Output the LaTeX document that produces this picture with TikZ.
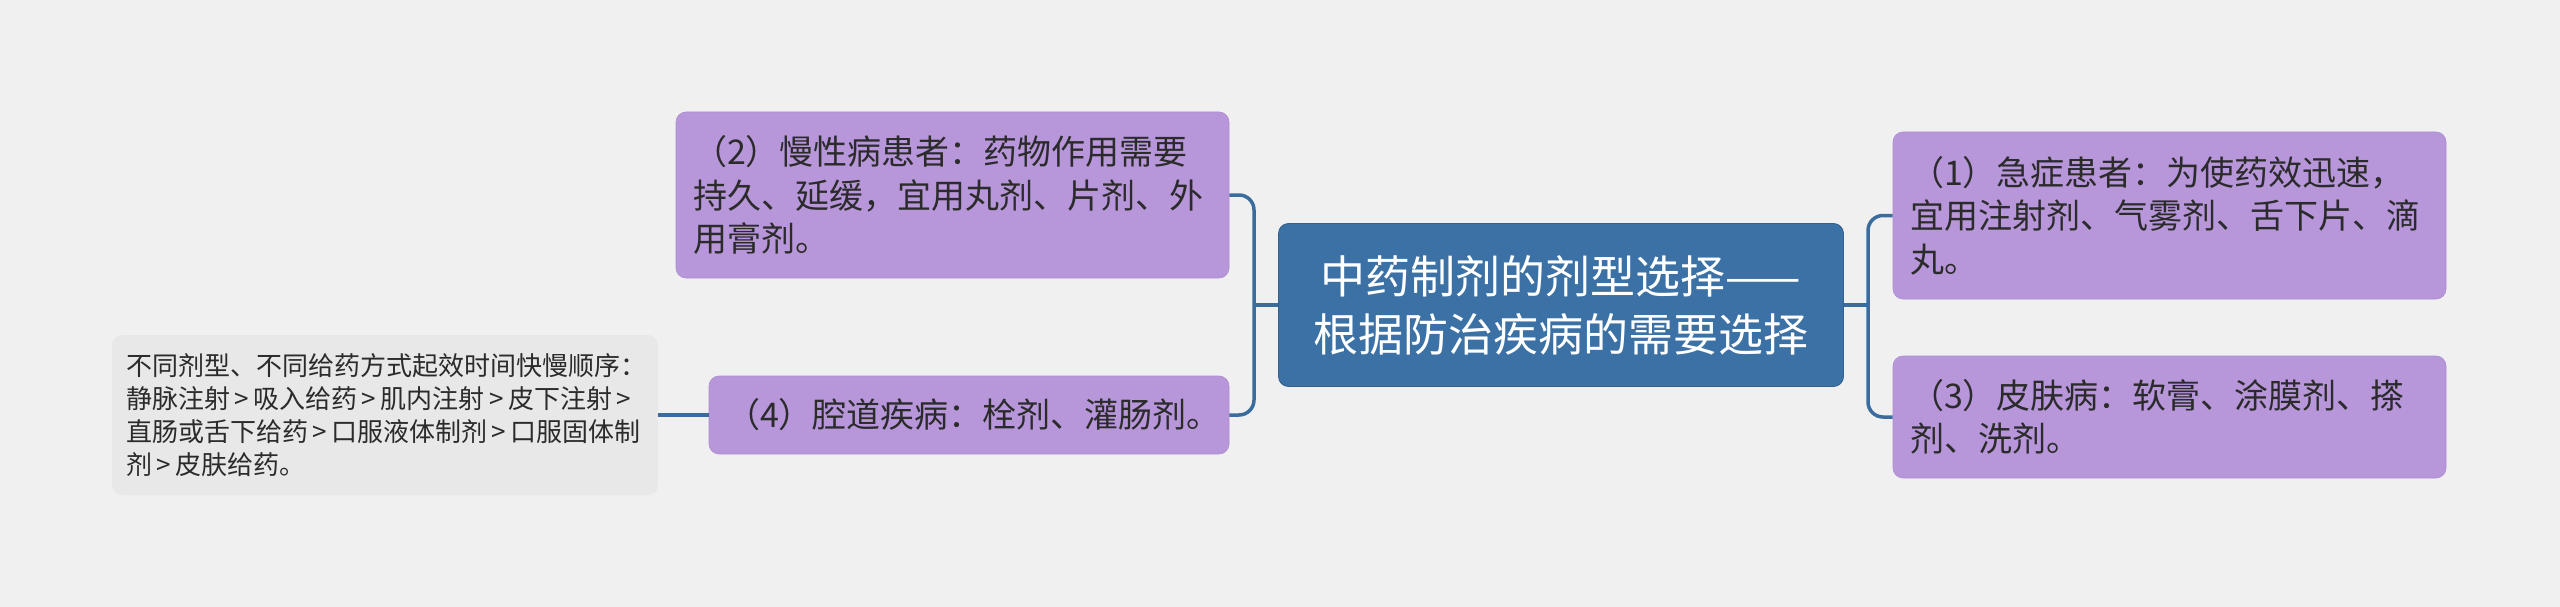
\documentclass[tikz,border=0pt]{standalone}
\usepackage{fontspec}
\setmainfont{Noto Sans CJK SC}
\definecolor{bgc}{HTML}{F0F0F0}
\definecolor{blueC}{HTML}{3C71A5}
\definecolor{lineC}{HTML}{3A6D9E}
\definecolor{purp}{HTML}{B796DA}
\definecolor{notec}{HTML}{E8E8E8}
\definecolor{txt}{HTML}{2B2B2B}
\newcommand{\gtsym}{\hspace{4.5pt}>\hspace{4.5pt}}
\begin{document}
\begin{tikzpicture}[x=1pt,y=-1pt,
  base/.style={rounded corners=10pt, inner xsep=17pt, inner ysep=0pt, anchor=center},
  mainbox/.style={base, fill=blueC, draw=blueC!85!black, line width=0.8pt, text=white, align=center,
     font=\fontsize{45}{58}\selectfont},
  subbox/.style={base, fill=purp, draw=purp!95!black, line width=0.6pt, text=txt, align=left,
     font=\fontsize{34}{43.5}\selectfont},
  notebox/.style={base, fill=notec, text=txt, align=left, inner xsep=14pt,
     font=\fontsize{26}{33}\selectfont},
  conn/.style={draw=lineC, line width=3.5pt, rounded corners=15pt}]
\fill[bgc] (0,0) rectangle (2560,607);
\useasboundingbox (0,0) rectangle (2560,607);

\node[mainbox, minimum width=565pt, minimum height=163pt, text width=531pt] (c) at (1561,305)
  {中药制剂的剂型选择——\\根据防治疾病的需要选择};

\node[subbox, minimum width=553pt, minimum height=167pt, text width=519pt] (n1) at (2169.5,215.5)
  {（1）急症患者：为使药效迅速，\\宜用注射剂、气雾剂、舌下片、滴\\丸。};
\node[subbox, minimum width=553pt, minimum height=122pt, text width=519pt] (n3) at (2169.5,417)
  {（3）皮肤病：软膏、涂膜剂、搽\\剂、洗剂。};
\node[subbox, minimum width=553pt, minimum height=166pt, text width=519pt] (n2) at (952.5,195)
  {（2）慢性病患者：药物作用需要\\持久、延缓，宜用丸剂、片剂、外\\用膏剂。};
\node[subbox, minimum width=520pt, minimum height=78pt, text width=486pt] (n4) at (969,415)
  {（4）腔道疾病：栓剂、灌肠剂。};
\node[notebox, minimum width=546pt, minimum height=160pt, text width=518pt] (nt) at (385,415)
  {\mbox{不同剂型、不同给药方式起效时间快慢顺序：}\\
   \mbox{静脉注射\gtsym 吸入给药\gtsym 肌内注射\gtsym 皮下注射\gtsym}\\
   \mbox{直肠或舌下给药\gtsym 口服液体制剂\gtsym 口服固体制}\\
   \mbox{剂\gtsym 皮肤给药。}};

\coordinate (bl) at (1254,305);
\coordinate (br) at (1868,305);
\draw[conn] (n2.east) -| (bl) |- (n4.east);
\draw[conn] (c.west) -- (bl);
\draw[conn] (n1.west) -| (br) |- (n3.west);
\draw[conn] (c.east) -- (br);
\draw[conn] (nt.east) -- (n4.west);
\end{tikzpicture}
\end{document}
